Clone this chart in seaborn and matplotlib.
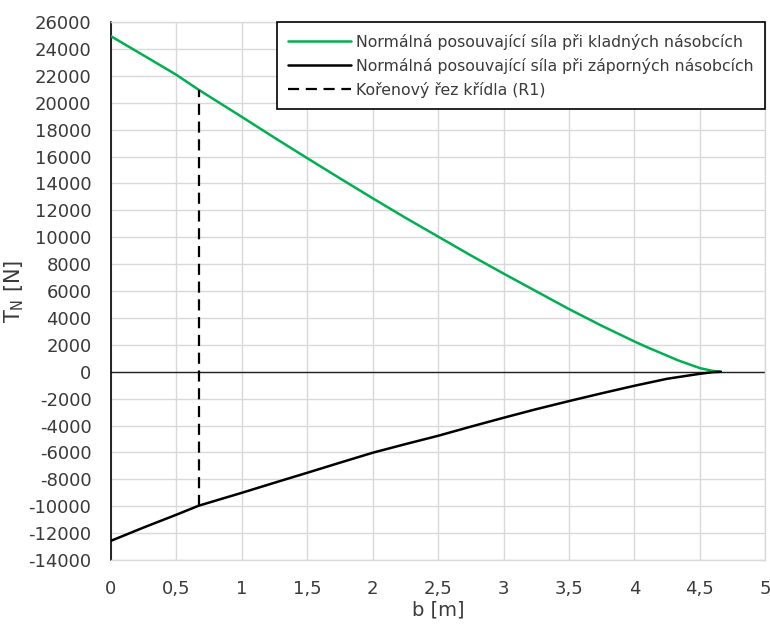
import matplotlib
matplotlib.use("Agg")
import matplotlib.pyplot as plt
import seaborn as sns
import pandas as pd

# ---- data ----
b_pos = [0.0, 0.25, 0.5, 0.67, 1.0, 1.25, 1.5, 1.75, 2.0, 2.25, 2.5, 2.75, 3.0, 3.25,
         3.5, 3.75, 4.0, 4.1, 4.2, 4.33, 4.5, 4.6, 4.66]
t_pos = [24950, 23520, 22080, 20970, 18950, 17400, 15880, 14380, 12900, 11450, 10050,
         8650, 7300, 5980, 4660, 3420, 2250, 1810, 1400, 860, 270, 60, 0]
b_neg = [0.0, 0.25, 0.5, 0.67, 1.0, 1.25, 1.5, 1.75, 2.0, 2.25, 2.5, 2.75, 3.0, 3.25,
         3.5, 3.75, 4.0, 4.25, 4.5, 4.6, 4.66]
t_neg = [-12570, -11580, -10630, -9960, -9000, -8250, -7510, -6760, -6020, -5380, -4760,
         -4080, -3420, -2780, -2180, -1600, -1040, -520, -150, -30, 0]
root_x = [0.67, 0.67]
root_y = [-9960, 20970]

labels = ["Normálná posouvající síla při kladných násobcích",
          "Normálná posouvající síla při záporných násobcích",
          "Kořenový řez křídla (R1)"]
x_ticks = [0, 0.5, 1, 1.5, 2, 2.5, 3, 3.5, 4, 4.5, 5]
x_ticklabels = ["0", "0,5", "1", "1,5", "2", "2,5", "3", "3,5", "4", "4,5", "5"]
y_ticks = list(range(-14000, 26001, 2000))
y_ticklabels = [str(v) for v in y_ticks]

sns.set_style("white")
plt.rcParams['font.family'] = ['DejaVu Sans']

fig = plt.figure(figsize=(7.7, 6.3), dpi=100)
ax = fig.add_axes([0.144, 0.111, 0.850, 0.854])

df_pos = pd.DataFrame({"b": b_pos, "T": t_pos})
df_neg = pd.DataFrame({"b": b_neg, "T": t_neg})

ax.axhline(0, color="#222222", lw=1.0, zorder=2)
sns.lineplot(data=df_pos, x="b", y="T", ax=ax, color="#00b050", lw=1.8, label=labels[0], zorder=3)
sns.lineplot(data=df_neg, x="b", y="T", ax=ax, color="black", lw=1.8, label=labels[1], zorder=3)
ax.plot(root_x, root_y, color="black", lw=1.6, ls=(0, (5, 3)), label=labels[2], zorder=3)

ax.set_xlim(0, 5)
ax.set_ylim(-14000, 26000)
ax.set_xticks(x_ticks)
ax.set_xticklabels(x_ticklabels)
ax.set_yticks(y_ticks)
ax.set_yticklabels(y_ticklabels)
ax.tick_params(axis="both", labelsize=13, colors="#3a3a3a", length=0)
ax.tick_params(axis="y", pad=14)
ax.tick_params(axis="x", pad=14)
ax.grid(True, color="#d9d9d9", lw=1.0)
ax.set_axisbelow(True)
for s in ["top", "right", "bottom"]:
    ax.spines[s].set_color("#d9d9d9")
    ax.spines[s].set_linewidth(1.0)
ax.spines["left"].set_color("black")
ax.spines["left"].set_linewidth(1.2)

ax.set_xlabel("b [m]", fontsize=14, color="#3a3a3a", labelpad=2)
ax.set_ylabel("T$_\\mathrm{N}$ [N]", fontsize=15, color="#3a3a3a", labelpad=2)

leg = ax.legend(loc="upper right", fontsize=11.3, frameon=True, fancybox=False,
                edgecolor="black", borderaxespad=0.0, handlelength=4.0,
                handletextpad=0.3, labelspacing=0.5, borderpad=0.75)
leg.get_frame().set_linewidth(1.2)
leg.get_frame().set_alpha(1)
for t in leg.get_texts():
    t.set_color("#3a3a3a")

fig.savefig("out.png", dpi=100)
